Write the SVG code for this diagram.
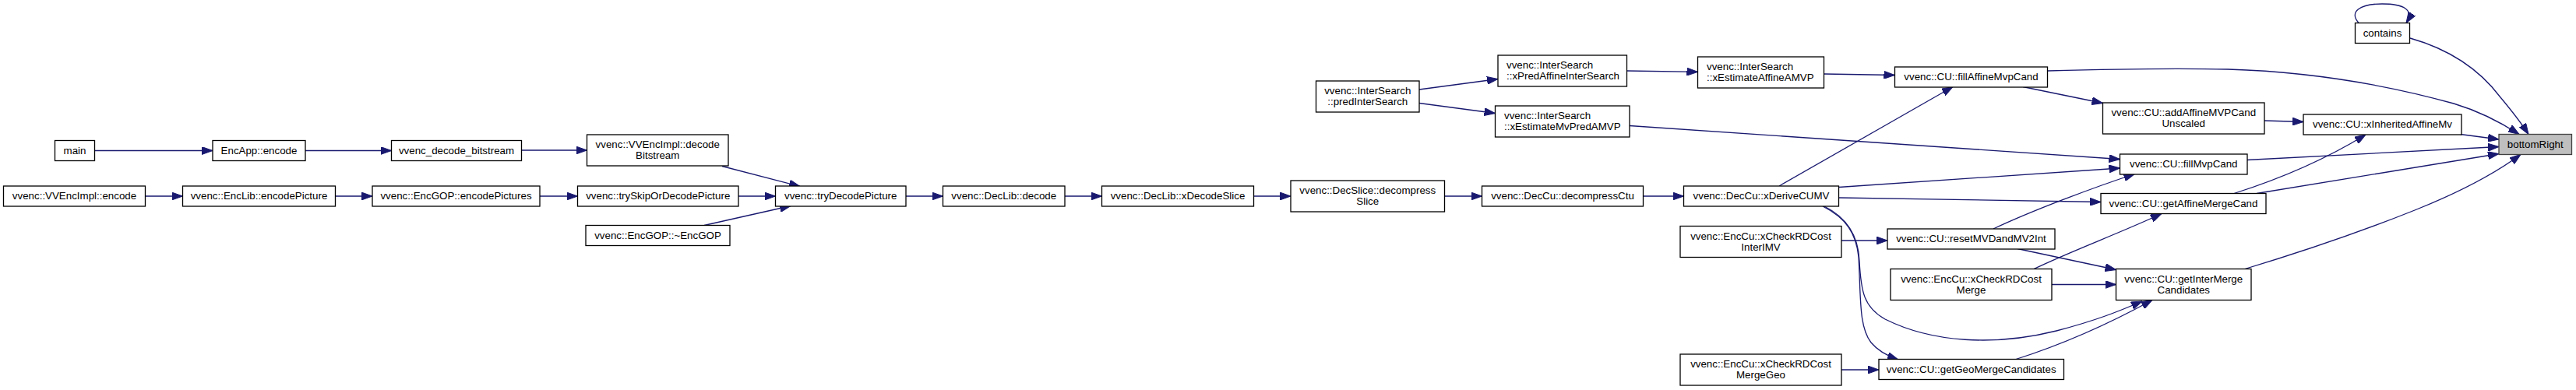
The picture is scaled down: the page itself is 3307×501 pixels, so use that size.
<svg xmlns="http://www.w3.org/2000/svg" width="3307" height="501" viewBox="0 0 3307 501">
<defs>
<style>
.n rect{fill:#fff;stroke:#000;stroke-width:1.3}
.n.h rect{fill:#bfbfbf;stroke:#404040}
.n text{font-family:"Liberation Sans",Arial,Helvetica,sans-serif;font-size:13.33px;fill:#000;text-anchor:middle}
.n text.l{text-anchor:start}
#edges path{fill:none;stroke:#191970;stroke-width:1.3;marker-end:url(#ah)}
</style>
<marker id="ah" viewBox="0 0 14 10" refX="14" refY="5" markerWidth="14" markerHeight="10" markerUnits="userSpaceOnUse" orient="auto">
<path d="M0,0 L14,5 L0,10 z" fill="#191970" stroke="#191970" stroke-width="1"/>
</marker>
</defs>
<rect width="3307" height="501" fill="#fff"/>
<g id="edges">
<path d="M121.5,193.5 H273"/>
<path d="M392,193.5 H502.5"/>
<path d="M669.5,193 H753.5"/>
<path d="M927,213.5 L1027,239.5"/>
<path d="M186.5,252 H234.5"/>
<path d="M430.5,252 H478"/>
<path d="M693,252 H741.5"/>
<path d="M948,252 H995.5"/>
<path d="M904,289.5 L1015,264.5"/>
<path d="M1163,252 H1210.5"/>
<path d="M1367,252 H1414.5"/>
<path d="M1609.5,252 H1657"/>
<path d="M1854.5,252 H1902.5"/>
<path d="M2109.5,252 H2161.5"/>
<path d="M1822,115 L1923,101.5"/>
<path d="M1822,132.5 L1919.5,145.5"/>
<path d="M2088.5,91 L2179.5,92.3"/>
<path d="M2341.5,95 L2432.5,96.5"/>
<path d="M2092,161.5 L2721.5,204.5"/>
<path d="M2284,239 L2507,111.5"/>
<path d="M2360.5,240.5 L2721.5,216"/>
<path d="M2360.5,254 L2697,259.5"/>
<path d="M2342,265 C2376,282 2386,310 2387,335 C2389,375 2393,395 2420,410 C2480,440 2560,445 2640,425 C2690,412 2720,400 2750,387"/>
<path d="M2340,265 C2370,280 2383,300 2386,330 C2389,380 2386,420 2402,440 C2412,452 2425,458 2437,462"/>
<path d="M2364,309 H2423"/>
<path d="M2559,294 C2610,270 2690,240 2740.5,223.5"/>
<path d="M2590,319.5 L2716.5,346.5"/>
<path d="M2611,345.5 C2660,322 2720,300 2775,274.5"/>
<path d="M2634,365.5 H2716.5"/>
<path d="M2364,475 H2412"/>
<path d="M2588,461.5 C2640,445 2700,420 2763,385.5"/>
<path d="M2597,111.5 L2699.5,132.5"/>
<path d="M2629,91 C2700,89 2780,87 2860,89 C2960,92 3060,108 3150,133 C3180,142 3210,157 3234,172.5"/>
<path d="M2907,155 L2957,156.5"/>
<path d="M3158.5,172.5 L3208,179"/>
<path d="M2884.5,205.5 L3208,188.5"/>
<path d="M2868,248.5 C2920,232 2980,208 3037,173"/>
<path d="M2897,248.5 L3208,197.5"/>
<path d="M2882,345.5 C2950,325 3030,298 3100,270 C3150,250 3200,225 3236,198.5"/>
<path d="M3094,49 C3140,62 3180,85 3210,125 C3225,143 3238,160 3246,172.5"/>
<path d="M3028,29.5 C3015,15 3030,5 3058,5 C3085,5 3100,12 3089,29.5"/>
</g>
<g id="n_main" class="n"><rect x="70.5" y="180.5" width="51" height="26"/><text x="96" y="197.5">main</text></g>
<g id="n_encapp" class="n"><rect x="273" y="180.5" width="119" height="26"/><text x="332.5" y="197.5">EncApp::encode</text></g>
<g id="n_decbits" class="n"><rect x="502.5" y="180.5" width="167" height="26"/><text x="586" y="197.5">vvenc_decode_bitstream</text></g>
<g id="n_implDecBits" class="n"><rect x="753.5" y="173" width="181.5" height="40"/><text x="844.25" y="190">vvenc::VVEncImpl::decode</text><text x="844.25" y="204">Bitstream</text></g>
<g id="n_implEncode" class="n"><rect x="4.5" y="239" width="182" height="26"/><text x="95.5" y="256">vvenc::VVEncImpl::encode</text></g>
<g id="n_encPic" class="n"><rect x="234.5" y="239" width="196" height="26"/><text x="332.5" y="256">vvenc::EncLib::encodePicture</text></g>
<g id="n_encPics" class="n"><rect x="478" y="239" width="215" height="26"/><text x="585.5" y="256">vvenc::EncGOP::encodePictures</text></g>
<g id="n_trySkip" class="n"><rect x="741.5" y="239" width="206.5" height="26"/><text x="844.75" y="256">vvenc::trySkipOrDecodePicture</text></g>
<g id="n_dtor" class="n"><rect x="752" y="289.5" width="185" height="26"/><text x="844.5" y="306.5">vvenc::EncGOP::~EncGOP</text></g>
<g id="n_tryDec" class="n"><rect x="995.5" y="239" width="167.5" height="26"/><text x="1079.25" y="256">vvenc::tryDecodePicture</text></g>
<g id="n_decLibDecode" class="n"><rect x="1210.5" y="239" width="156.5" height="26"/><text x="1288.75" y="256">vvenc::DecLib::decode</text></g>
<g id="n_xDecodeSlice" class="n"><rect x="1414.5" y="239" width="195" height="26"/><text x="1512" y="256">vvenc::DecLib::xDecodeSlice</text></g>
<g id="n_decompSlice" class="n"><rect x="1657" y="232" width="197.5" height="40"/><text x="1755.75" y="249">vvenc::DecSlice::decompress</text><text x="1755.75" y="263">Slice</text></g>
<g id="n_decompCtu" class="n"><rect x="1902.5" y="239" width="207" height="26"/><text x="2006" y="256">vvenc::DecCu::decompressCtu</text></g>
<g id="n_xDeriveCUMV" class="n"><rect x="2161.5" y="239" width="199" height="26"/><text x="2261" y="256">vvenc::DecCu::xDeriveCUMV</text></g>
<g id="n_predInter" class="n"><rect x="1689.5" y="104" width="132.5" height="40"/><text x="1755.75" y="121">vvenc::InterSearch</text><text x="1755.75" y="135">::predInterSearch</text></g>
<g id="n_xPredAffine" class="n"><rect x="1923" y="71" width="165.5" height="40"/><text class="l" x="1934" y="88">vvenc::InterSearch</text><text class="l" x="1934" y="102">::xPredAffineInterSearch</text></g>
<g id="n_xEstMvPred" class="n"><rect x="1919.5" y="136" width="172.5" height="40"/><text class="l" x="1931" y="153">vvenc::InterSearch</text><text class="l" x="1931" y="167">::xEstimateMvPredAMVP</text></g>
<g id="n_xEstAffine" class="n"><rect x="2179.5" y="73" width="162" height="40"/><text class="l" x="2191" y="90">vvenc::InterSearch</text><text class="l" x="2191" y="104">::xEstimateAffineAMVP</text></g>
<g id="n_rdInterIMV" class="n"><rect x="2157" y="290.5" width="207" height="40"/><text x="2260.5" y="307.5">vvenc::EncCu::xCheckRDCost</text><text x="2260.5" y="321.5">InterIMV</text></g>
<g id="n_rdMergeGeo" class="n"><rect x="2157" y="455" width="207" height="40"/><text x="2260.5" y="472">vvenc::EncCu::xCheckRDCost</text><text x="2260.5" y="486">MergeGeo</text></g>
<g id="n_fillAffine" class="n"><rect x="2432.5" y="86" width="196" height="26"/><text x="2530.5" y="103">vvenc::CU::fillAffineMvpCand</text></g>
<g id="n_resetMVD" class="n"><rect x="2423" y="294" width="215" height="26"/><text x="2530.5" y="311">vvenc::CU::resetMVDandMV2Int</text></g>
<g id="n_rdMerge" class="n"><rect x="2427" y="345.5" width="207" height="40"/><text x="2530.5" y="362.5">vvenc::EncCu::xCheckRDCost</text><text x="2530.5" y="376.5">Merge</text></g>
<g id="n_geoMerge" class="n"><rect x="2412" y="461.5" width="237.5" height="26"/><text x="2530.75" y="478.5">vvenc::CU::getGeoMergeCandidates</text></g>
<g id="n_addAffine" class="n"><rect x="2699.5" y="132" width="207.5" height="40"/><text x="2803.25" y="149">vvenc::CU::addAffineMVPCand</text><text x="2803.25" y="163">Unscaled</text></g>
<g id="n_fillMvp" class="n"><rect x="2721.5" y="198" width="163.5" height="26"/><text x="2803.25" y="215">vvenc::CU::fillMvpCand</text></g>
<g id="n_affMerge" class="n"><rect x="2697" y="248.5" width="212" height="26"/><text x="2803" y="265.5">vvenc::CU::getAffineMergeCand</text></g>
<g id="n_interMerge" class="n"><rect x="2716.5" y="345.5" width="173.5" height="40"/><text x="2803.25" y="362.5">vvenc::CU::getInterMerge</text><text x="2803.25" y="376.5">Candidates</text></g>
<g id="n_contains" class="n"><rect x="3023.5" y="29.5" width="70" height="26"/><text x="3058.5" y="46.5">contains</text></g>
<g id="n_inherited" class="n"><rect x="2957" y="147" width="203" height="26"/><text x="3058.5" y="164">vvenc::CU::xInheritedAffineMv</text></g>
<g id="n_bottomRight" class="n h"><rect x="3208" y="172.5" width="93.5" height="26"/><text x="3254.75" y="189.5">bottomRight</text></g>
</svg>
